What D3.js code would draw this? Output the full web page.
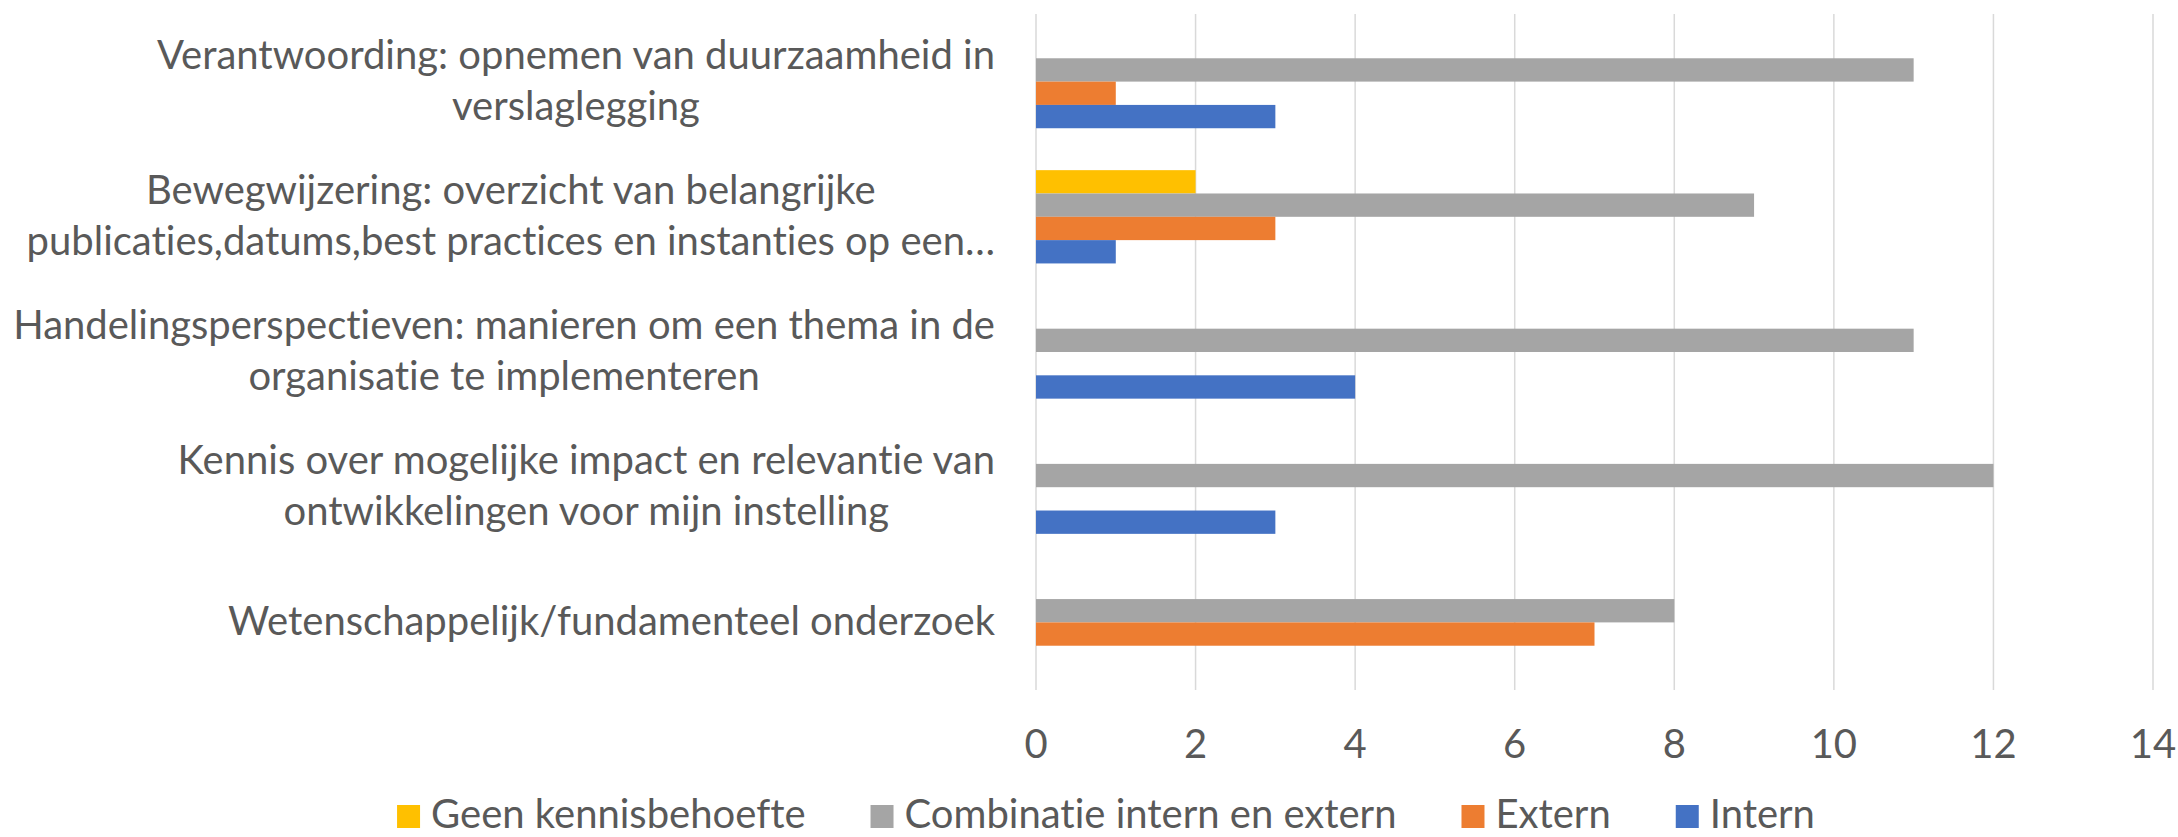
<!DOCTYPE html>
<html>
<head>
<meta charset="utf-8">
<script src="https://cdn.jsdelivr.net/npm/d3@7"></script>
<style>
  html, body { margin: 0; padding: 0; background: #ffffff; }
  svg { display: block; font-family: Lato, "Open Sans", sans-serif; }
  svg text { font-variant-ligatures: none; font-feature-settings: "liga" 0, "dlig" 0; }
</style>
</head>
<body>
<svg id="chart" width="2178" height="837"></svg>
<script>
// Categories, top to bottom; "\n" marks the line breaks of the axis labels
const categories = [
  "Verantwoording: opnemen van duurzaamheid in\nverslaglegging",
  "Bewegwijzering: overzicht van belangrijke\npublicaties,datums,best practices en instanties op een…",
  "Handelingsperspectieven: manieren om een thema in de\norganisatie te implementeren",
  "Kennis over mogelijke impact en relevantie van\nontwikkelingen voor mijn instelling",
  "Wetenschappelijk/fundamenteel onderzoek"
];

// Series, in the order they appear within each group (top to bottom) and in the legend
const seriesNames = ["Geen kennisbehoefte", "Combinatie intern en extern", "Extern", "Intern"];
const geenKennisbehoefte = [0, 2, 0, 0, 0];
const combinatieInternExtern = [11, 9, 11, 12, 8];
const extern = [1, 3, 0, 0, 7];
const intern = [3, 1, 4, 3, 0];

const xTicks = [0, 2, 4, 6, 8, 10, 12, 14];

// Styling
const seriesColors = ["#FFC000", "#A5A5A5", "#ED7D31", "#4472C4"];
const textColor = "#595959";
const gridColor = "#D9D9D9";
const fontSize = 40;

const seriesValues = [geenKennisbehoefte, combinatieInternExtern, extern, intern];
const rows = categories.map((c, i) => ({
  category: c,
  values: seriesNames.map((s, j) => ({ series: s, value: seriesValues[j][i], color: seriesColors[j] }))
}));

const svg = d3.select("#chart");

const plot = { left: 1036, right: 2153, top: 14, bottom: 690 };

const x = d3.scaleLinear().domain([0, 14]).range([plot.left, plot.right]);
const y = d3.scaleBand().domain(categories).range([plot.top, plot.bottom]).paddingInner(0).paddingOuter(0);

// four bars fill ~69% of each category slot
const groupH = y.bandwidth() * 0.69;
const ySeries = d3.scaleBand().domain(seriesNames).range([0, groupH]).padding(0);

// Vertical gridlines
svg.append("g")
  .selectAll("line")
  .data(xTicks)
  .join("line")
  .attr("x1", d => x(d)).attr("x2", d => x(d))
  .attr("y1", plot.top).attr("y2", plot.bottom)
  .attr("stroke", gridColor)
  .attr("stroke-width", 1.5);

// Bars
const groups = svg.append("g")
  .selectAll("g")
  .data(rows)
  .join("g")
  .attr("transform", d => `translate(0,${y(d.category) + (y.bandwidth() - groupH) / 2})`);

groups.selectAll("rect")
  .data(d => d.values)
  .join("rect")
  .attr("x", x(0))
  .attr("y", d => ySeries(d.series))
  .attr("width", d => x(d.value) - x(0))
  .attr("height", ySeries.bandwidth())
  .attr("fill", d => d.color);

// X axis tick labels
svg.append("g")
  .selectAll("text")
  .data(xTicks)
  .join("text")
  .attr("x", d => x(d))
  .attr("y", 758)
  .attr("text-anchor", "middle")
  .attr("fill", textColor)
  .attr("font-size", fontSize)
  .text(d => d);

// Category labels: lines centred on each other, block right-aligned next to the axis
const labelRight = x(0) - 41;
const lineGap = 51;
rows.forEach(r => {
  const lines = r.category.split("\n");
  const cy = y(r.category) + y.bandwidth() / 2;
  const g = svg.append("g");
  const texts = lines.map((ln, i) => g.append("text")
    .attr("y", cy + 12.5 + (i - (lines.length - 1) / 2) * lineGap)
    .attr("text-anchor", "middle")
    .attr("fill", textColor)
    .attr("font-size", fontSize)
    .text(ln));
  const maxW = d3.max(texts, t => t.node().getComputedTextLength());
  texts.forEach(t => t.attr("x", labelRight - maxW / 2));
});

// Legend along the bottom
const legend = svg.append("g");
const markerSize = 23, markerGap = 11, itemGap = 65;
let cursor = 0;
seriesNames.forEach((name, i) => {
  const item = legend.append("g");
  item.append("rect")
    .attr("x", 0).attr("y", -markerSize)
    .attr("width", markerSize).attr("height", markerSize)
    .attr("fill", seriesColors[i]);
  const t = item.append("text")
    .attr("x", markerSize + markerGap).attr("y", 0)
    .attr("fill", textColor)
    .attr("font-size", fontSize)
    .text(name);
  const w = markerSize + markerGap + t.node().getComputedTextLength();
  item.attr("transform", `translate(${cursor},0)`);
  cursor += w + itemGap;
});
const legendWidth = cursor - itemGap;
legend.attr("transform", `translate(${1106 - legendWidth / 2},828)`);
</script>
</body>
</html>
